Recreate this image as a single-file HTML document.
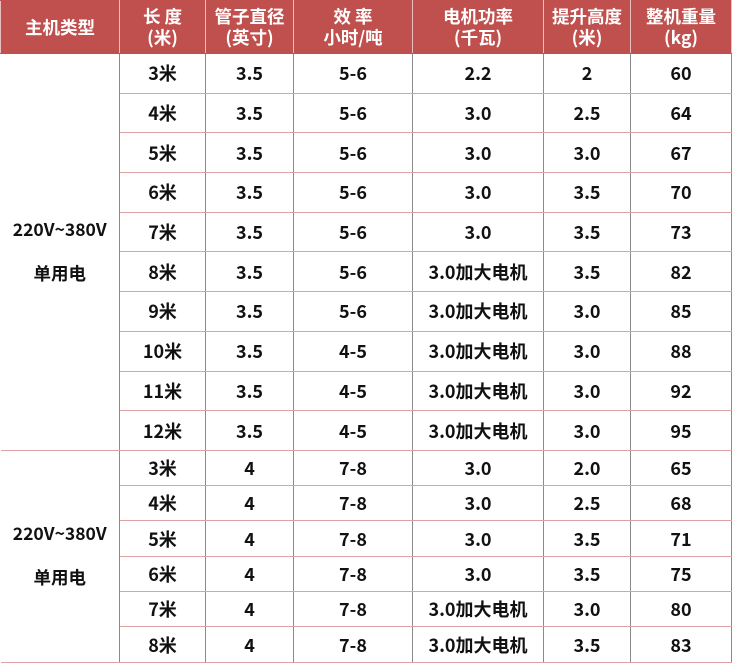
<!DOCTYPE html>
<html><head><meta charset="utf-8"><style>
html,body{margin:0;padding:0;background:#fff;width:733px;height:665px;overflow:hidden}
table{border-collapse:collapse;table-layout:fixed;width:731px;font-family:"Noto Sans CJK SC","Liberation Sans",sans-serif;font-weight:bold;color:#111}
td,th{text-align:center;padding:0;border-top:1px solid #dba3a3;border-bottom:1px solid #dba3a3;border-left:1.5px solid #8a8a8a;border-right:1.5px solid #8a8a8a;font-size:18px;line-height:20px;overflow:hidden}
th{background:#c0504d;color:#fff;font-size:17.5px;line-height:21px;height:52px;border-color:#c0504d;border-left:1px solid #e8c0c0;border-right:1px solid #e8c0c0}
tr.a td{height:38.7px}
tr.b td{height:34.3px}
td.g{line-height:44px;font-size:17.5px;border-left:none}
</style></head><body>
<table>
<colgroup><col style="width:119px"><col style="width:86px"><col style="width:88px"><col style="width:119px"><col style="width:131px"><col style="width:87px"><col style="width:101px"></colgroup>
<tr><th>主机类型</th><th>长 度<br>(米)</th><th>管子直径<br>(英寸)</th><th>效 率<br>小时/吨</th><th>电机功率<br>(千瓦)</th><th>提升高度<br>(米)</th><th>整机重量<br>(kg)</th></tr>
<tr class="a"><td class="g" rowspan="10">220V~380V<br>单用电</td><td>3米</td><td>3.5</td><td>5-6</td><td>2.2</td><td>2</td><td>60</td></tr>
<tr class="a"><td>4米</td><td>3.5</td><td>5-6</td><td>3.0</td><td>2.5</td><td>64</td></tr>
<tr class="a"><td>5米</td><td>3.5</td><td>5-6</td><td>3.0</td><td>3.0</td><td>67</td></tr>
<tr class="a"><td>6米</td><td>3.5</td><td>5-6</td><td>3.0</td><td>3.5</td><td>70</td></tr>
<tr class="a"><td>7米</td><td>3.5</td><td>5-6</td><td>3.0</td><td>3.5</td><td>73</td></tr>
<tr class="a"><td>8米</td><td>3.5</td><td>5-6</td><td>3.0加大电机</td><td>3.5</td><td>82</td></tr>
<tr class="a"><td>9米</td><td>3.5</td><td>5-6</td><td>3.0加大电机</td><td>3.0</td><td>85</td></tr>
<tr class="a"><td>10米</td><td>3.5</td><td>4-5</td><td>3.0加大电机</td><td>3.0</td><td>88</td></tr>
<tr class="a"><td>11米</td><td>3.5</td><td>4-5</td><td>3.0加大电机</td><td>3.0</td><td>92</td></tr>
<tr class="a"><td>12米</td><td>3.5</td><td>4-5</td><td>3.0加大电机</td><td>3.0</td><td>95</td></tr>
<tr class="b"><td class="g" rowspan="6">220V~380V<br>单用电</td><td>3米</td><td>4</td><td>7-8</td><td>3.0</td><td>2.0</td><td>65</td></tr>
<tr class="b"><td>4米</td><td>4</td><td>7-8</td><td>3.0</td><td>2.5</td><td>68</td></tr>
<tr class="b"><td>5米</td><td>4</td><td>7-8</td><td>3.0</td><td>3.5</td><td>71</td></tr>
<tr class="b"><td>6米</td><td>4</td><td>7-8</td><td>3.0</td><td>3.5</td><td>75</td></tr>
<tr class="b"><td>7米</td><td>4</td><td>7-8</td><td>3.0加大电机</td><td>3.0</td><td>80</td></tr>
<tr class="b"><td>8米</td><td>4</td><td>7-8</td><td>3.0加大电机</td><td>3.5</td><td>83</td></tr>
</table>
</body></html>
